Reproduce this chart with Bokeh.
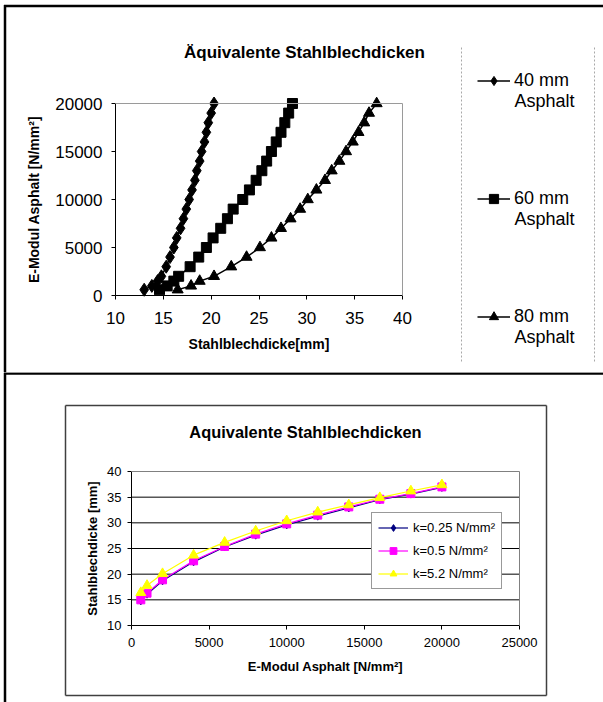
from bokeh.plotting import figure
from bokeh.layouts import column
from bokeh.models import Range1d, Label, Arrow, Legend, LegendItem, FixedTicker
from bokeh.embed import file_html
from bokeh.resources import INLINE

# ---------------- data: upper chart ----------------
top_title = "Äquivalente Stahlblechdicken"
top_xlabel = "Stahlblechdicke[mm]"
top_ylabel = "E-Modul Asphalt [N/mm²]"
top_e = [600, 1000, 1500, 2000, 3000, 4000, 5000, 6000, 7000, 8000, 9000,
         10000, 11000, 12000, 13000, 14000, 15000, 16000, 17000, 18000, 19000, 20000]
top_t40 = [13.0, 13.8, 14.4, 14.8, 15.3, 15.7, 16.1, 16.4, 16.8, 17.1, 17.4,
           17.7, 18.0, 18.3, 18.5, 18.8, 19.0, 19.3, 19.5, 19.7, 20.0, 20.3]
top_t60 = [14.6, 15.4, 16.1, 16.6, 17.8, 18.7, 19.5, 20.2, 21.0, 21.7, 22.3,
           23.3, 24.0, 24.7, 25.3, 25.8, 26.3, 26.8, 27.3, 27.7, 28.1, 28.5]
top_t80 = [16.5, 17.9, 18.8, 20.3, 22.1, 23.7, 25.1, 26.3, 27.3, 28.3, 29.3,
           30.1, 31.0, 31.9, 32.6, 33.4, 34.1, 34.8, 35.4, 36.0, 36.5, 37.3]
top_series = ["40 mm", "60 mm", "80 mm"]
top_series_sub = "Asphalt"
top_xticks = [10, 15, 20, 25, 30, 35, 40]
top_yticks = [0, 5000, 10000, 15000, 20000]

# ---------------- data: lower chart ----------------
bot_title = "Aquivalente Stahlblechdicken"
bot_xlabel = "E-Modul Asphalt [N/mm²]"
bot_ylabel = "Stahlblechdicke [mm]"
bot_e = [600, 1000, 2000, 4000, 6000, 8000, 10000, 12000, 14000, 16000, 18000, 20000]
bot_k025 = [14.8, 16.1, 18.7, 22.4, 25.3, 27.6, 29.6, 31.3, 32.9, 34.5, 35.6, 36.9]
bot_k05 = [15.0, 16.3, 18.9, 22.6, 25.4, 27.8, 29.8, 31.5, 33.1, 34.6, 35.7, 37.0]
bot_k52 = [16.4, 17.8, 20.1, 23.7, 26.2, 28.4, 30.4, 32.1, 33.5, 34.9, 36.2, 37.4]
bot_series = ["k=0.25 N/mm²", "k=0.5 N/mm²", "k=5.2 N/mm²"]
bot_xticks = [0, 5000, 10000, 15000, 20000, 25000]
bot_yticks = [10, 15, 20, 25, 30, 35, 40]

FONT = "Liberation Sans"
W = 603


class PixMap:
    """Map canvas pixels to data, given where two data values must fall on the canvas."""
    def __init__(self, px0, px1, py0, py1, xr, yr):
        self.px0, self.px1, self.py0, self.py1 = px0, px1, py0, py1
        self.xr, self.yr = xr, yr

    def x(self, px):
        return self.xr[0] + (px - self.px0) / (self.px1 - self.px0) * (self.xr[1] - self.xr[0])

    def y(self, py):
        return self.yr[0] + (self.py0 - py) / (self.py0 - self.py1) * (self.yr[1] - self.yr[0])


def make_fig(w, h, m):
    p = figure(width=w, height=h, output_backend="svg", toolbar_location=None,
               x_range=Range1d(m.x(0), m.x(w)), y_range=Range1d(m.y(h), m.y(0)),
               min_border=0)
    p.title.visible = False
    p.outline_line_color = None
    p.background_fill_color = "white"
    p.border_fill_color = "white"
    p.grid.visible = False
    return p


def seg(p, m, x0, y0, x1, y1, color="black", width=2.0, dash="solid"):
    p.add_layout(Arrow(end=None, start=None, x_start=m.x(x0), y_start=m.y(y0),
                       x_end=m.x(x1), y_end=m.y(y1), line_color=color,
                       line_width=width, line_dash=dash))


def dseg(p, x0, y0, x1, y1, color="black", width=1):
    p.add_layout(Arrow(end=None, start=None, x_start=x0, y_start=y0,
                       x_end=x1, y_end=y1, line_color=color, line_width=width))


def lab(p, m, px, py, text, size, bold=False, align="center", color="black"):
    p.add_layout(Label(x=m.x(px), y=m.y(py), text=text, text_font=FONT,
                       text_font_size=f"{size}px",
                       text_font_style="bold" if bold else "normal",
                       text_align=align, text_baseline="middle", text_color=color))


def style_axes(p, tick_size, label_size):
    for ax in (p.xaxis, p.yaxis):
        ax.axis_line_color = "black"
        ax.major_tick_line_color = "black"
        ax.major_tick_out = 4
        ax.major_tick_in = 0
        ax.minor_tick_line_color = None
        ax.major_label_text_font = FONT
        ax.major_label_text_font_size = f"{tick_size}px"
        ax.major_label_text_color = "black"
        ax.axis_label_text_font = FONT
        ax.axis_label_text_font_size = f"{label_size}px"
        ax.axis_label_text_font_style = "bold"
        ax.axis_label_text_color = "black"


# ================= upper chart (canvas = page y 0..372) =================
TH = 372
txr, tyr = (10, 40), (0, 20000)
tm = PixMap(115, 402, 295, 103, txr, tyr)
top = make_fig(W, TH, tm)
style_axes(top, 17, 14)
top.xaxis.ticker = FixedTicker(ticks=top_xticks)
top.yaxis.ticker = FixedTicker(ticks=top_yticks)
top.xaxis.fixed_location = tyr[0]
top.yaxis.fixed_location = txr[0]
top.xaxis.bounds = txr
top.yaxis.bounds = tyr
top.xaxis.axis_label = top_xlabel
top.yaxis.axis_label = top_ylabel
top.xaxis.major_label_standoff = 12
top.yaxis.major_label_standoff = 9
top.xaxis.axis_label_standoff = 9
top.yaxis.axis_label_standoff = 10

# plot-area border (top and right)
dseg(top, txr[0], tyr[1], txr[1], tyr[1], color="#9a9a9a")
dseg(top, txr[1], tyr[0], txr[1], tyr[1], color="#9a9a9a")

markers = ["diamond", "square", "triangle"]
msizes = [13, 10, 11]
top_items = []
for ts, name, mk, ms in zip([top_t40, top_t60, top_t80], top_series, markers, msizes):
    lr = top.line(ts, top_e, line_color="black", line_width=1.5)
    sr = top.scatter(ts, top_e, marker=mk, size=ms, fill_color="black", line_color="black")
    top_items.append(LegendItem(label=name, renderers=[lr, sr]))

item_y = [80, 198, 316]          # page y of the first line of each legend entry
leg_left = 477                   # page x of the legend swatch
gw, gs = 33, 4
lh = 23
top_leg = Legend(items=top_items,
                 location=(leg_left, TH - (item_y[-1] + lh / 2)),
                 orientation="vertical", spacing=int(item_y[1] - item_y[0] - lh),
                 padding=0, margin=0, glyph_width=gw, glyph_height=lh, label_height=lh,
                 label_standoff=gs, label_text_font=FONT, label_text_font_size="18px",
                 label_text_color="black", border_line_color=None,
                 background_fill_alpha=0)
top.add_layout(top_leg)
for yy in item_y:
    lab(top, tm, leg_left + gw + gs, yy + 20, top_series_sub, 18, align="left")

lab(top, tm, 304, 52, top_title, 17, bold=True)

# dotted separators of the legend area
seg(top, tm, 461, 47, 461, 362, color="#a8a8a8", width=1, dash="2 2")
seg(top, tm, 594, 47, 594, 362, color="#a8a8a8", width=1, dash="2 2")
# outer frame lines
seg(top, tm, 3.5, 5.5, W, 5.5, width=2.5)
seg(top, tm, 4.5, 4.5, 4.5, TH, width=2.5)

# ================= lower chart (canvas = page y 372..702) =================
BH = 330
OY = 372
bxr, byr = (0, 25000), (10, 40)
bm = PixMap(131, 519, 625 - OY, 471 - OY, bxr, byr)
bot = make_fig(W, BH, bm)
style_axes(bot, 13, 13)
bot.xaxis.ticker = FixedTicker(ticks=bot_xticks)
bot.yaxis.ticker = FixedTicker(ticks=bot_yticks)
bot.xaxis.fixed_location = byr[0]
bot.yaxis.fixed_location = bxr[0]
bot.xaxis.bounds = bxr
bot.yaxis.bounds = byr
bot.xaxis.axis_label = bot_xlabel
bot.yaxis.axis_label = bot_ylabel
bot.xaxis.major_label_standoff = 8
bot.yaxis.major_label_standoff = 6
bot.xaxis.axis_label_standoff = 9
bot.yaxis.axis_label_standoff = 4

# chart-area box
bx0, bx1, by0, by1 = 65, 546, 405 - OY, 695 - OY
for (a, b, c, d) in [(bx0, by0, bx1, by0), (bx1, by0, bx1, by1),
                     (bx0, by1, bx1, by1), (bx0, by0, bx0, by1)]:
    seg(bot, bm, a, b, c, d, color="#404040", width=1.5)

# horizontal grid lines and plot-area border
bot.segment(x0=bxr[0], x1=bxr[1], y0=bot_yticks[1:-1], y1=bot_yticks[1:-1],
            line_color="black", line_width=1, level="underlay")
dseg(bot, bxr[0], byr[1], bxr[1], byr[1], color="#808080")
dseg(bot, bxr[1], byr[0], bxr[1], byr[1], color="#808080")

bcolors = ["#000080", "#FF00FF", "#FFFF00"]
bmarkers = ["diamond", "square", "triangle"]
bsizes = [8, 8, 10]
bot_items = []
for ks, name, c, mk, ms in zip([bot_k025, bot_k05, bot_k52], bot_series, bcolors,
                                bmarkers, bsizes):
    lr = bot.line(bot_e, ks, line_color=c, line_width=1.2)
    sr = bot.scatter(bot_e, ks, marker=mk, size=ms, fill_color=c, line_color=c)
    bot_items.append(LegendItem(label=name, renderers=[lr, sr]))

bot_leg = Legend(items=bot_items, location=(371, BH - (589 - OY)),
                 orientation="vertical", spacing=6, padding=6, margin=0,
                 glyph_width=30, glyph_height=17, label_height=17, label_standoff=5,
                 label_text_font=FONT, label_text_font_size="13px", label_text_color="black",
                 border_line_color="#333333", border_line_width=1.2,
                 background_fill_color="white", background_fill_alpha=1)
bot.add_layout(bot_leg)

lab(bot, bm, 305, 431 - OY, bot_title, 16.4, bold=True)

# outer frame lines
seg(bot, bm, 3.5, 1, W, 1, width=2.5)
seg(bot, bm, 4.5, 0, 4.5, BH, width=2.5)

layout = column(top, bot, spacing=0)
open("out.html", "w").write(file_html(layout, INLINE))
